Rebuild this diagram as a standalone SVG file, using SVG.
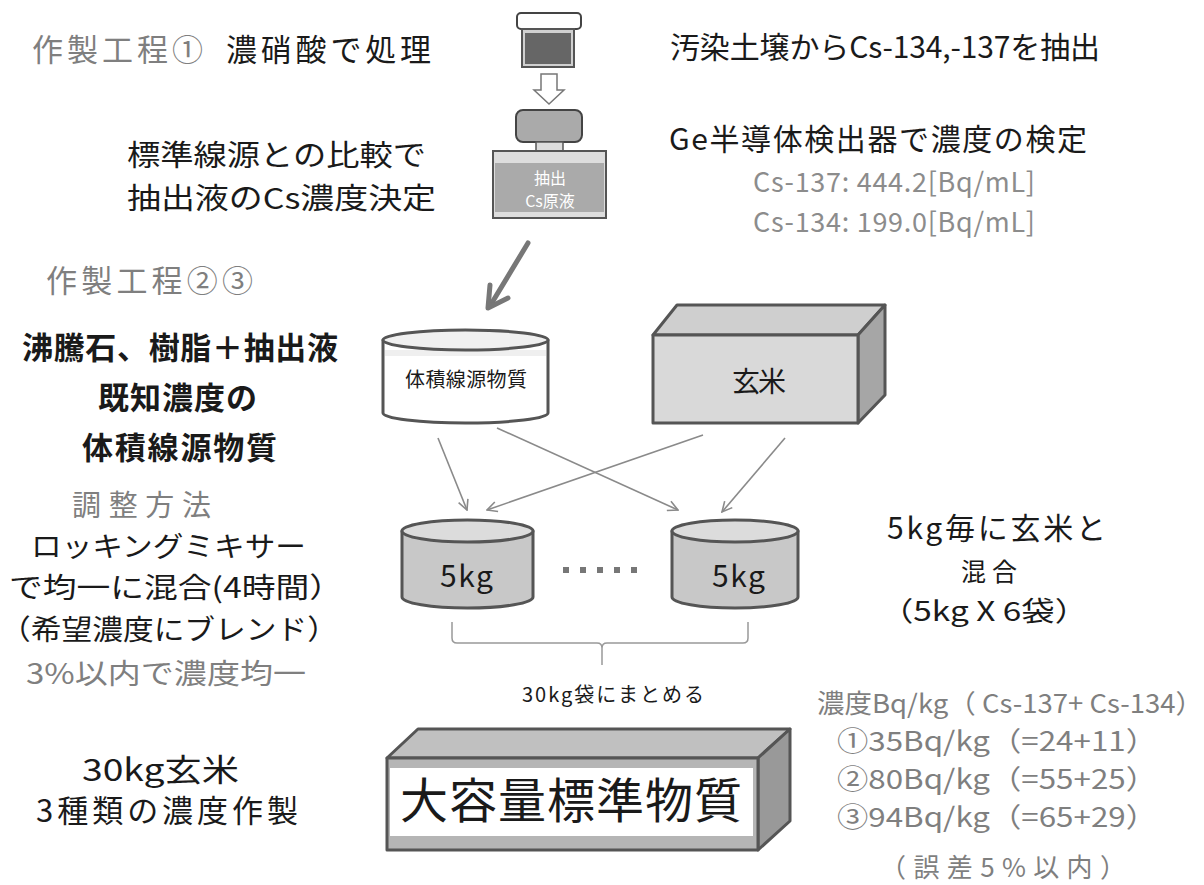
<svg xmlns="http://www.w3.org/2000/svg" width="1204" height="885" viewBox="0 0 1204 885">
  <defs>
    <style>
      .t { font-family: "Noto Sans CJK JP", "Noto Sans", sans-serif; }
      .s { font-family: "Liberation Serif", "Noto Sans CJK JP", serif; }
      .blk { fill: #1a1a1a; }
      .gry { fill: #7f7f7f; }
      .lgry { fill: #8c8c8c; }
      .edge { stroke: #555; stroke-width: 3; stroke-linejoin: round; }
      .thin { fill: none; stroke: #8a8a8a; stroke-width: 1.6; }
    </style>
    <marker id="vhead" viewBox="0 0 12 12" refX="11" refY="6" markerWidth="12" markerHeight="12" markerUnits="userSpaceOnUse" orient="auto">
      <path d="M1,1 L11,6 L1,11" fill="none" stroke="#8a8a8a" stroke-width="1.6"/>
    </marker>
  </defs>
  <rect width="1204" height="885" fill="#fff"/>

  <!-- extraction step: acid jar and extract bottle -->
  <g id="jar">
    <rect x="517" y="13" width="64" height="16" rx="4" fill="#fff" stroke="#444" stroke-width="2"/>
    <rect x="522" y="29" width="52" height="38" fill="#d0d0d0" stroke="#555" stroke-width="2"/>
    <rect x="525" y="33" width="46" height="31" fill="#666"/>
  </g>
  <g id="down-arrow">
    <polygon points="541,74 557,74 557,90 564,90 549,104 534,90 541,90" fill="#fff" stroke="#777" stroke-width="1.5"/>
  </g>
  <g id="bottle">
    <rect x="516" y="110" width="66" height="32" rx="7" fill="#aaa" stroke="#444" stroke-width="2"/>
    <rect x="536" y="142" width="27" height="10" fill="#ddd" stroke="#555" stroke-width="1.5"/>
    <rect x="493" y="151" width="113" height="67" fill="#ddd" stroke="#555" stroke-width="2"/>
    <rect x="495" y="163" width="109" height="49" fill="#aaa"/>
    <text class="t" x="550" y="184" font-size="16" fill="#fff" text-anchor="middle">抽出</text>
    <text class="t" x="550" y="207" font-size="16" fill="#fff" text-anchor="middle">Cs原液</text>
  </g>

  <!-- volume source cylinder -->
  <g id="volume-source">
    <path d="M383,340 L383,413 A82.5,10 0 0 0 548,413 L548,340 Z" fill="#fff" class="edge"/>
    <rect x="385" y="350" width="161" height="6" fill="#efefef"/>
    <ellipse cx="465.5" cy="340" rx="82.5" ry="10" fill="#f0f0f0" class="edge"/>
    <text class="s blk" x="405" y="387" font-size="20" textLength="122">体積線源物質</text>
  </g>

  <!-- brown rice box -->
  <g id="brown-rice">
    <polygon points="653,335 677,305 885,305 858,335" fill="#cfcfcf" class="edge"/>
    <polygon points="858,335 885,305 885,395 858,423" fill="#a6a6a6" class="edge"/>
    <rect x="653" y="335" width="205" height="88" fill="#d9d9d9" class="edge"/>
    <text class="t blk" x="732" y="392" font-size="28" textLength="54">玄米</text>
  </g>

  <!-- 5 kg bags -->
  <g id="bag-left">
    <path d="M402,531 L402,597 A65.5,11 0 0 0 533,597 L533,531 Z" fill="#c8c8c8" class="edge"/>
    <ellipse cx="467.5" cy="531" rx="65.5" ry="11" fill="#dcdcdc" class="edge"/>
    <text class="t blk" x="440" y="587" font-size="30" textLength="53">5kg</text>
  </g>
  <g id="bag-right">
    <path d="M672,531 L672,597 A63,11 0 0 0 798,597 L798,531 Z" fill="#c8c8c8" class="edge"/>
    <ellipse cx="735" cy="531" rx="63" ry="11" fill="#dcdcdc" class="edge"/>
    <text class="t blk" x="712" y="587" font-size="30" textLength="53">5kg</text>
  </g>
  <g id="ellipsis" fill="#777">
    <rect x="563" y="567" width="6" height="6"/>
    <rect x="580" y="567" width="6" height="6"/>
    <rect x="597" y="567" width="6" height="6"/>
    <rect x="614" y="567" width="6" height="6"/>
    <rect x="631" y="567" width="6" height="6"/>
  </g>

  <!-- bulk reference material block -->
  <g id="bulk-material">
    <polygon points="387,758 418,729 790,729 758,758" fill="#c0c0c0" class="edge"/>
    <polygon points="758,758 790,729 790,821 758,850" fill="#999" class="edge"/>
    <rect x="387" y="758" width="371" height="92" fill="#b5b5b5" class="edge"/>
    <rect x="390" y="768" width="363" height="68" fill="#fff"/>
    <text class="t blk" x="400" y="818" font-size="48" textLength="342">大容量標準物質</text>
  </g>

  <!-- connectors -->
  <g id="connectors">
    <line x1="528" y1="243" x2="490" y2="306" stroke="#777" stroke-width="5" stroke-linecap="round"/>
    <polyline points="490,285 488,308 508,298" fill="none" stroke="#777" stroke-width="5" stroke-linecap="round" stroke-linejoin="round"/>
    <line class="thin" x1="438" y1="438" x2="467" y2="510" marker-end="url(#vhead)"/>
    <line class="thin" x1="497" y1="428" x2="678" y2="510" marker-end="url(#vhead)"/>
    <line class="thin" x1="703" y1="435" x2="487" y2="510" marker-end="url(#vhead)"/>
    <line class="thin" x1="785" y1="438" x2="722" y2="512" marker-end="url(#vhead)"/>
    <path d="M452,622 L452,638 Q452,643 457,643 L597,643 Q602,643 602,648 L602,665 M602,648 Q602,643 607,643 L743,643 Q748,643 748,638 L748,622" fill="none" stroke="#999" stroke-width="1.5"/>
  </g>

  <!-- labels -->
  <g id="labels" class="t">
    <text class="gry" x="32" y="61" font-size="31" textLength="171">作製工程①</text>
    <text class="blk" x="226" y="61" font-size="31" textLength="205">濃硝酸で処理</text>
    <text class="blk" x="670" y="58" font-size="30" textLength="430">汚染土壌からCs-134,-137を抽出</text>
    <text class="blk" x="127" y="166" font-size="29" textLength="299" lengthAdjust="spacingAndGlyphs">標準線源との比較で</text>
    <text class="blk" x="127" y="209" font-size="29" textLength="309" lengthAdjust="spacingAndGlyphs">抽出液のCs濃度決定</text>
    <text class="blk" x="669" y="150" font-size="30" textLength="418">Ge半導体検出器で濃度の検定</text>
    <text class="lgry" x="753" y="192" font-size="27" textLength="282">Cs-137: 444.2[Bq/mL]</text>
    <text class="lgry" x="753" y="232" font-size="27" textLength="282">Cs-134: 199.0[Bq/mL]</text>

    <text class="gry" x="46" y="292" font-size="31" textLength="207">作製工程②③</text>
    <text class="blk" x="22" y="359" font-size="31" font-weight="bold" textLength="316">沸騰石、樹脂＋抽出液</text>
    <text class="blk" x="98" y="409" font-size="31" font-weight="bold" textLength="159">既知濃度の</text>
    <text class="blk" x="82" y="459" font-size="31" font-weight="bold" textLength="195">体積線源物質</text>

    <text class="gry" x="72" y="516" font-size="29" textLength="139">調整方法</text>
    <text class="blk" x="31" y="557" font-size="28" textLength="275" lengthAdjust="spacingAndGlyphs">ロッキングミキサー</text>
    <text class="blk" x="9" y="598" font-size="28" textLength="334" lengthAdjust="spacingAndGlyphs">で均一に混合(4時間）</text>
    <text class="blk" x="0" y="640" font-size="28" textLength="338" lengthAdjust="spacingAndGlyphs">（希望濃度にブレンド）</text>
    <text class="gry" x="26" y="684" font-size="28" textLength="280" lengthAdjust="spacingAndGlyphs">3%以内で濃度均一</text>
    <text class="blk" x="82" y="781" font-size="31" textLength="157" lengthAdjust="spacingAndGlyphs">30kg玄米</text>
    <text class="blk" x="36" y="822" font-size="31" textLength="262">3種類の濃度作製</text>

    <text class="blk" x="887" y="539" font-size="30" textLength="219">5kg毎に玄米と</text>
    <text class="s blk" x="961" y="581" font-size="25" textLength="56">混合</text>
    <text class="blk" x="880" y="621" font-size="27" textLength="208" lengthAdjust="spacingAndGlyphs">（5kg X 6袋）</text>
    <text class="blk" x="522" y="702" font-size="20" textLength="182">30kg袋にまとめる</text>

    <text class="gry" x="817" y="713" font-size="26" textLength="386" lengthAdjust="spacingAndGlyphs">濃度Bq/kg（ Cs-137+ Cs-134）</text>
    <text class="gry" x="837" y="751" font-size="27" textLength="320" lengthAdjust="spacingAndGlyphs">①35Bq/kg（=24+11）</text>
    <text class="gry" x="837" y="789" font-size="27" textLength="320" lengthAdjust="spacingAndGlyphs">②80Bq/kg（=55+25）</text>
    <text class="gry" x="837" y="827" font-size="27" textLength="320" lengthAdjust="spacingAndGlyphs">③94Bq/kg（=65+29）</text>
    <text class="gry" x="880" y="877" font-size="26" textLength="246">（誤差5%以内）</text>
  </g>
</svg>
